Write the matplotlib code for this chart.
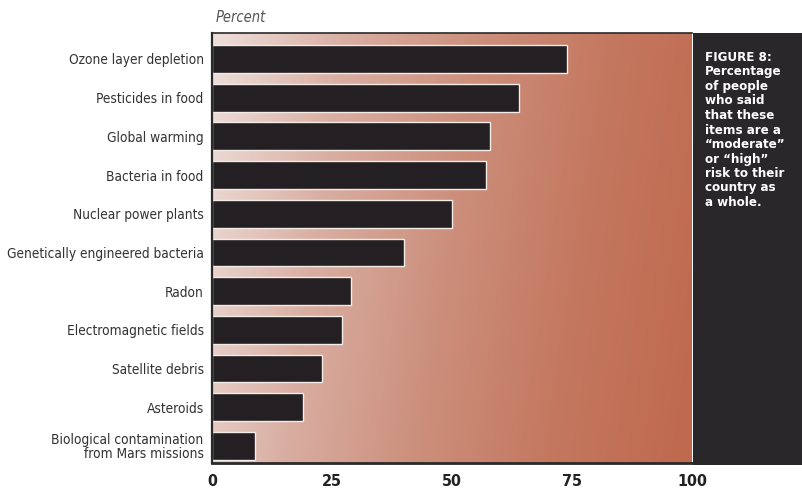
import numpy as np
import matplotlib.pyplot as plt
from matplotlib.colors import LinearSegmentedColormap
from matplotlib.patches import Rectangle

# risk items, top to bottom
items = [
    'Ozone layer depletion',
    'Pesticides in food',
    'Global warming',
    'Bacteria in food',
    'Nuclear power plants',
    'Genetically engineered bacteria',
    'Radon',
    'Electromagnetic fields',
    'Satellite debris',
    'Asteroids',
    'Biological contamination\nfrom Mars missions',
]
percent = [74, 64, 58, 57, 50, 40, 29, 27, 23, 19, 9]
xticks = [0, 25, 50, 75, 100]

caption = ('FIGURE 8:\nPercentage\nof people\nwho said\nthat these\nitems are a\n'
           '\u201cmoderate\u201d\nor \u201chigh\u201d\nrisk to their\ncountry as\na whole.')

FONT = ['DejaVu Sans', 'Liberation Sans']

W, H = 803, 493
fig = plt.figure(figsize=(W / 100, H / 100), dpi=100)
fig.patch.set_facecolor('white')

left, right, top, bottom = 212, 692, 33, 463
ax = fig.add_axes([left / W, 1 - bottom / H, (right - left) / W, (bottom - top) / H])

# background wash: pale pink on the left to burnt orange on the right
grad = LinearSegmentedColormap.from_list(
    'wash', ['#eedfdb', '#d9aea2', '#cc8f7c', '#c47860', '#bf6a4f'])
gx = np.linspace(0, 1, 300)
gy = np.linspace(0, 1, 120)
X, Y = np.meshgrid(gx, gy)
T = np.clip(0.9 * X + 0.12 * Y, 0, 1)
ylo, yhi = 10.44, -0.67
ax.imshow(T, cmap=grad, extent=[0, 100, ylo, yhi], aspect='auto',
          interpolation='bilinear', zorder=0)

ypos = np.arange(len(items))
ax.barh(ypos, percent, height=0.72, color='#231f23',
        edgecolor='#f3ebe6', linewidth=1.0, zorder=2)

ax.set_xlim(0, 100)
ax.set_ylim(ylo, yhi)
ax.set_yticks(ypos)
ax.set_yticklabels(items, fontsize=9.8, color='#333333', family=FONT,
                   fontstretch='condensed', linespacing=1.0)
ax.set_xticks(xticks)
ax.set_xticklabels([str(v) for v in xticks], fontsize=11.5, color='#222222',
                   family=FONT, fontstretch='condensed', fontweight='semibold')
ax.tick_params(axis='y', length=0, pad=6)
ax.tick_params(axis='x', length=0, pad=8)

for s in ['left', 'bottom', 'top']:
    ax.spines[s].set_color('#2a2a2a')
ax.spines['left'].set_linewidth(1.6)
ax.spines['bottom'].set_linewidth(2.0)
ax.spines['top'].set_linewidth(1.2)
ax.spines['right'].set_visible(False)

fig.text(216 / W, 1 - 17 / H, 'Percent', fontsize=10.5, style='italic',
         color='#555555', family=FONT, fontstretch='condensed',
         va='center', ha='left')

# dark side panel with the caption
fig.add_artist(Rectangle((693 / W, 1 - 465 / H), (W - 693) / W, (465 - 33) / H,
                         transform=fig.transFigure, facecolor='#29272a',
                         edgecolor='none', zorder=1))
fig.text(705 / W, 1 - 51 / H, caption, fontsize=9.5, fontweight='bold',
         color='white', family=FONT, fontstretch='condensed',
         va='top', ha='left', linespacing=1.15, zorder=3)

fig.savefig('out.png', dpi=100)
